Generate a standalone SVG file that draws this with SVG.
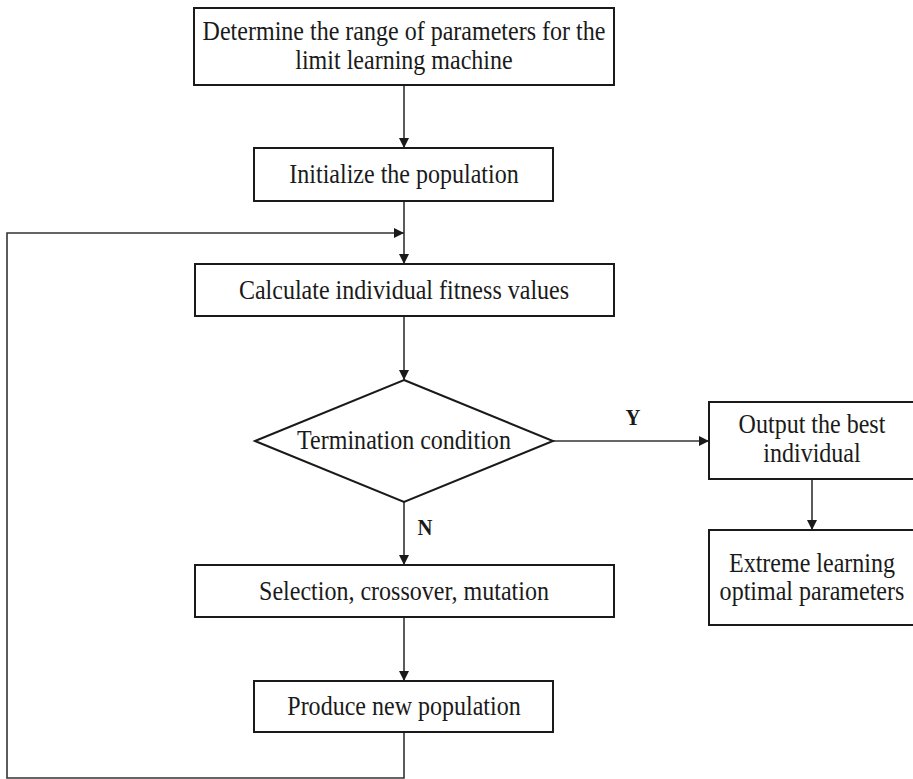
<svg xmlns="http://www.w3.org/2000/svg" width="913" height="779" viewBox="0 0 913 779">
<defs>
<marker id="arr" viewBox="0 0 10 10" refX="10" refY="5" markerWidth="10" markerHeight="10" markerUnits="userSpaceOnUse" orient="auto">
<path d="M0,0 L10,5 L0,10 Z" fill="#1a1a1a"/>
</marker>
</defs>
<style>
.box{fill:#fff;stroke:#1a1a1a;stroke-width:2}
.t{font-family:"Liberation Serif","Times New Roman",serif;font-size:27px;fill:#1a1a1a;text-anchor:middle}
.lbl{font-family:"Liberation Serif","Times New Roman",serif;font-size:23px;font-weight:bold;fill:#1a1a1a;text-anchor:middle}
.c{fill:none;stroke:#333;stroke-width:1.6}
</style>
<rect width="913" height="779" fill="#fff"/>
<g id="connectors">
<line class="c" x1="404" y1="85" x2="404" y2="148" marker-end="url(#arr)"/>
<line class="c" x1="404" y1="201" x2="404" y2="264" marker-end="url(#arr)"/>
<polyline class="c" points="404,732 404,778 7,778 7,233 404,233" marker-end="url(#arr)"/>
<line class="c" x1="404" y1="316" x2="404" y2="380" marker-end="url(#arr)"/>
<line class="c" x1="553" y1="441" x2="709" y2="441" marker-end="url(#arr)"/>
<line class="c" x1="812" y1="479" x2="812" y2="530" marker-end="url(#arr)"/>
<line class="c" x1="404" y1="502" x2="404" y2="565" marker-end="url(#arr)"/>
<line class="c" x1="404" y1="617" x2="404" y2="681" marker-end="url(#arr)"/>
<text class="lbl" transform="translate(633,425) scale(0.9,1)">Y</text>
<text class="lbl" transform="translate(425,535) scale(0.9,1)">N</text>
</g>
<g id="n1">
<rect class="box" x="194" y="8" width="420" height="77"/>
<text class="t" transform="translate(404,40) scale(0.89,1)">Determine the range of parameters for the</text>
<text class="t" transform="translate(404,69) scale(0.89,1)">limit learning machine</text>
</g>
<g id="n2">
<rect class="box" x="254" y="148" width="299" height="53"/>
<text class="t" transform="translate(404,183) scale(0.89,1)">Initialize the population</text>
</g>
<g id="n3">
<rect class="box" x="195" y="264" width="419" height="52"/>
<text class="t" transform="translate(404,299) scale(0.89,1)">Calculate individual fitness values</text>
</g>
<g id="n4">
<polygon class="box" points="404,380 553,441 404,502 255,441"/>
<text class="t" transform="translate(404,449) scale(0.89,1)">Termination condition</text>
</g>
<g id="n5">
<rect class="box" x="709" y="402" width="210" height="77"/>
<text class="t" transform="translate(812,433) scale(0.89,1)">Output the best</text>
<text class="t" transform="translate(812,462) scale(0.89,1)">individual</text>
</g>
<g id="n6">
<rect class="box" x="709" y="530" width="210" height="95"/>
<text class="t" transform="translate(812,572) scale(0.89,1)">Extreme learning</text>
<text class="t" transform="translate(812,600) scale(0.89,1)">optimal parameters</text>
</g>
<g id="n7">
<rect class="box" x="195" y="565" width="419" height="52"/>
<text class="t" transform="translate(404,600) scale(0.89,1)">Selection, crossover, mutation</text>
</g>
<g id="n8">
<rect class="box" x="254" y="681" width="299" height="51"/>
<text class="t" transform="translate(404,715) scale(0.89,1)">Produce new population</text>
</g>
</svg>
